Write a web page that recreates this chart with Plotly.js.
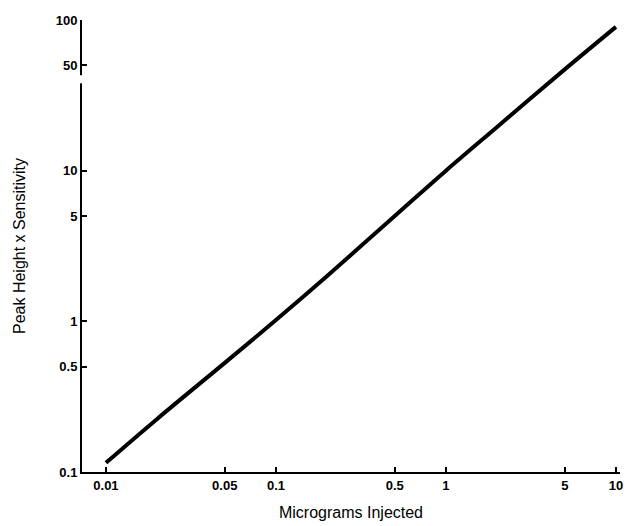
<!DOCTYPE html>
<html><head><meta charset="utf-8">
<script src="https://cdn.plot.ly/plotly-3.0.1.min.js"></script>
<style>body{margin:0;background:#fff}#c{width:627px;height:526px}</style>
</head><body><div id="c"></div>
<script>
var micrograms = [0.01, 0.02, 0.05, 0.1, 0.2, 0.5, 1, 2, 5, 10];
var peakHeight = [0.115, 0.225, 0.53, 1.02, 2.0, 5.0, 10.0, 19.5, 47, 90];
var xTickVals = [0.01, 0.05, 0.1, 0.5, 1, 5, 10];
var xTickText = ['0.01', '0.05', '0.1', '0.5', '1', '5', '10'];
var yTickVals = [0.1, 0.5, 1, 5, 10, 50, 100];
var yTickText = ['0.1', '0.5', '1', '5', '10', '50', '100'];

var font = {family: 'Liberation Sans, Arial, sans-serif', color: '#000'};
Plotly.newPlot('c', [{
  x: micrograms, y: peakHeight, type: 'scatter', mode: 'lines',
  line: {color: '#000', width: 4, shape: 'spline', smoothing: 1}, hoverinfo: 'skip'
}], {
  width: 627, height: 526,
  margin: {l: 82, r: 7, t: 20, b: 54},
  paper_bgcolor: '#fff', plot_bgcolor: '#fff',
  showlegend: false,
  xaxis: {
    type: 'log', range: [Math.log10(0.00723), 1.024],
    tickvals: xTickVals, ticktext: xTickText,
    ticks: 'inside', ticklen: 5, tickwidth: 2, tickcolor: '#000',
    showline: true, linecolor: '#000', linewidth: 2,
    showgrid: false, zeroline: false,
    tickfont: Object.assign({size: 13, weight: 'bold'}, font),
    title: {text: 'Micrograms Injected', font: Object.assign({size: 16}, font), standoff: 15}
  },
  yaxis: {
    type: 'log', range: [-1, 2],
    tickvals: yTickVals, ticktext: yTickText,
    ticks: 'inside', ticklen: 5, tickwidth: 2, tickcolor: '#000',
    showline: true, linecolor: '#000', linewidth: 2,
    showgrid: false, zeroline: false,
    tickfont: Object.assign({size: 13, weight: 'bold'}, font),
    title: {text: 'Peak Height x Sensitivity', font: Object.assign({size: 16}, font), standoff: 26}
  },
  shapes: [{
    type: 'rect', xref: 'paper', yref: 'y', layer: 'above',
    x0: -0.01, x1: 0.008, y0: 38, y1: 43,
    fillcolor: '#fff', line: {width: 0}
  }]
}, {displayModeBar: false, staticPlot: true});
</script></body></html>
